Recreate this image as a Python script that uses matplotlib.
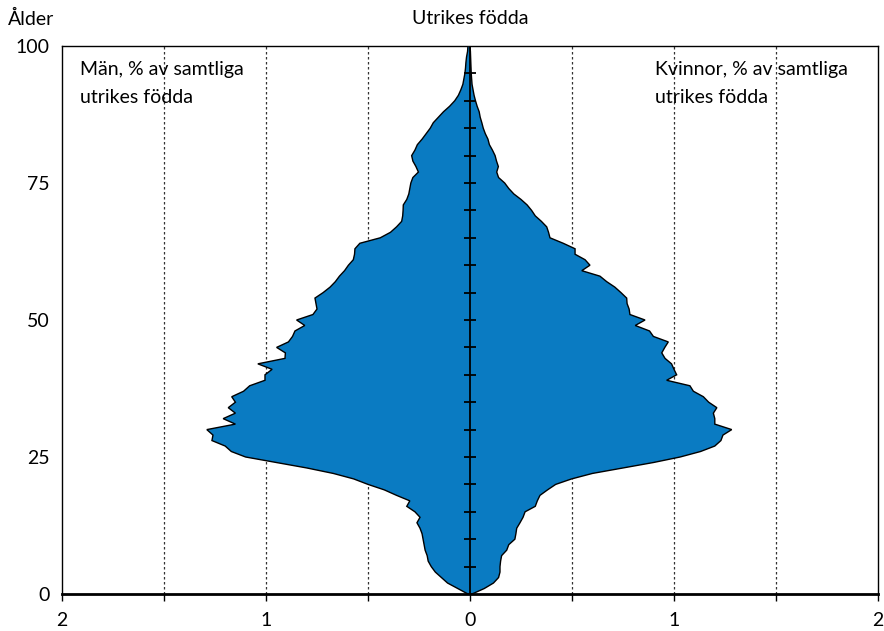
import numpy as np
import matplotlib
matplotlib.use("Agg")
import matplotlib.pyplot as plt

plt.rcParams['font.family'] = ['Lato', 'DejaVu Sans']

ages = list(range(0, 101))

# Men, % of all foreign born (ages 0..100)
men = [0.01, 0.06, 0.11, 0.14, 0.17, 0.19, 0.205, 0.21, 0.22, 0.225,
       0.23, 0.235, 0.245, 0.26, 0.245, 0.27, 0.31, 0.295, 0.36, 0.42,
       0.50, 0.57, 0.67, 0.80, 0.95, 1.10, 1.17, 1.20, 1.265, 1.26,
       1.29, 1.15, 1.21, 1.15, 1.185, 1.15, 1.168, 1.11, 1.08, 1.005,
       1.005, 0.97, 1.04, 0.907, 0.905, 0.948, 0.89, 0.87, 0.858, 0.81,
       0.85, 0.77, 0.75, 0.755, 0.76, 0.72, 0.686, 0.66, 0.64, 0.615,
       0.596, 0.572, 0.566, 0.564, 0.54, 0.44, 0.39, 0.36, 0.335, 0.33,
       0.328, 0.327, 0.31, 0.30, 0.295, 0.29, 0.28, 0.253, 0.265, 0.28,
       0.286, 0.27, 0.258, 0.235, 0.215, 0.195, 0.18, 0.155, 0.13, 0.10,
       0.075, 0.057, 0.045, 0.035, 0.03, 0.025, 0.022, 0.02, 0.017, 0.012,
       0.01]

# Women, % of all foreign born (ages 0..100)
women = [0.01, 0.07, 0.115, 0.14, 0.147, 0.147, 0.15, 0.155, 0.18, 0.19,
         0.22, 0.225, 0.229, 0.245, 0.26, 0.27, 0.32, 0.33, 0.343, 0.38,
         0.42, 0.498, 0.60, 0.75, 0.90, 1.03, 1.13, 1.20, 1.23, 1.24,
         1.283, 1.20, 1.20, 1.193, 1.21, 1.17, 1.144, 1.095, 1.078, 0.964,
         1.013, 1.00, 0.988, 0.956, 0.94, 0.955, 0.972, 0.899, 0.88, 0.81,
         0.858, 0.784, 0.78, 0.77, 0.768, 0.74, 0.71, 0.67, 0.637, 0.548,
         0.588, 0.564, 0.515, 0.515, 0.457, 0.392, 0.385, 0.376, 0.35, 0.32,
         0.302, 0.28, 0.25, 0.215, 0.19, 0.17, 0.14, 0.131, 0.139, 0.13,
         0.123, 0.11, 0.095, 0.088, 0.075, 0.065, 0.058, 0.05, 0.045, 0.035,
         0.027, 0.02, 0.015, 0.01, 0.008, 0.006, 0.005, 0.004, 0.003, 0.002,
         0.0]

x_ticks = [-2, -1.5, -1, -0.5, 0, 0.5, 1, 1.5, 2]
x_ticklabels = ["2", "", "1", "", "0", "", "1", "", "2"]
y_ticks = [0, 25, 50, 75, 100]
y_ticklabels = ["0", "25", "50", "75", "100"]
grid_x = [-1.5, -1, -0.5, 0.5, 1, 1.5]
center_ticks = list(range(5, 100, 5))

title = "Utrikes födda"
ylabel = "Ålder"
men_label = "Män, % av samtliga\nutrikes födda"
women_label = "Kvinnor, % av samtliga\nutrikes födda"

fill_color = "#0a7bc2"
FS = 14

fig = plt.figure(figsize=(8.84, 6.31), dpi=100)
ax = fig.add_axes([62/884, 37/631, 816/884, 548/631])

ages_a = np.array(ages)
men_a = np.array(men)
women_a = np.array(women)

xs = np.concatenate([-men_a, women_a[::-1]])
ys = np.concatenate([ages_a, ages_a[::-1]])
ax.fill(xs, ys, facecolor=fill_color, edgecolor="black", linewidth=1.0, zorder=3)

for g in grid_x:
    ax.axvline(g, color="#333333", linestyle=(0, (2, 2)), linewidth=0.9, zorder=1)

ax.axvline(0, color="black", linewidth=1.3, zorder=4)
ax.plot([0]*len(center_ticks), center_ticks, linestyle="none", marker="_",
        markersize=9, markeredgewidth=1.3, color="black", zorder=4)

ax.set_xlim(-2, 2)
ax.set_ylim(0, 100)
ax.set_xticks(x_ticks)
ax.set_xticklabels(x_ticklabels, fontsize=FS)
ax.set_yticks(y_ticks)
ax.set_yticklabels(y_ticklabels, fontsize=FS)
ax.tick_params(axis="x", direction="out", length=5, width=1, pad=8)
ax.tick_params(axis="y", length=0, pad=9)

for s in ["left", "right", "top"]:
    ax.spines[s].set_linewidth(1.0)
ax.spines["bottom"].set_linewidth(2.0)
ax.spines["bottom"].set_zorder(5)

fig.text(8/884, 1 - 19/631, ylabel, fontsize=FS, ha="left", va="center")
fig.text(470/884, 1 - 19/631, title, fontsize=FS, ha="center", va="center")

ax.text(-1.91, 97.2, men_label, fontsize=FS, ha="left", va="top", linespacing=1.75, zorder=6)
ax.text(0.905, 97.2, women_label, fontsize=FS, ha="left", va="top", linespacing=1.75, zorder=6)

fig.savefig("out.png", dpi=100)
